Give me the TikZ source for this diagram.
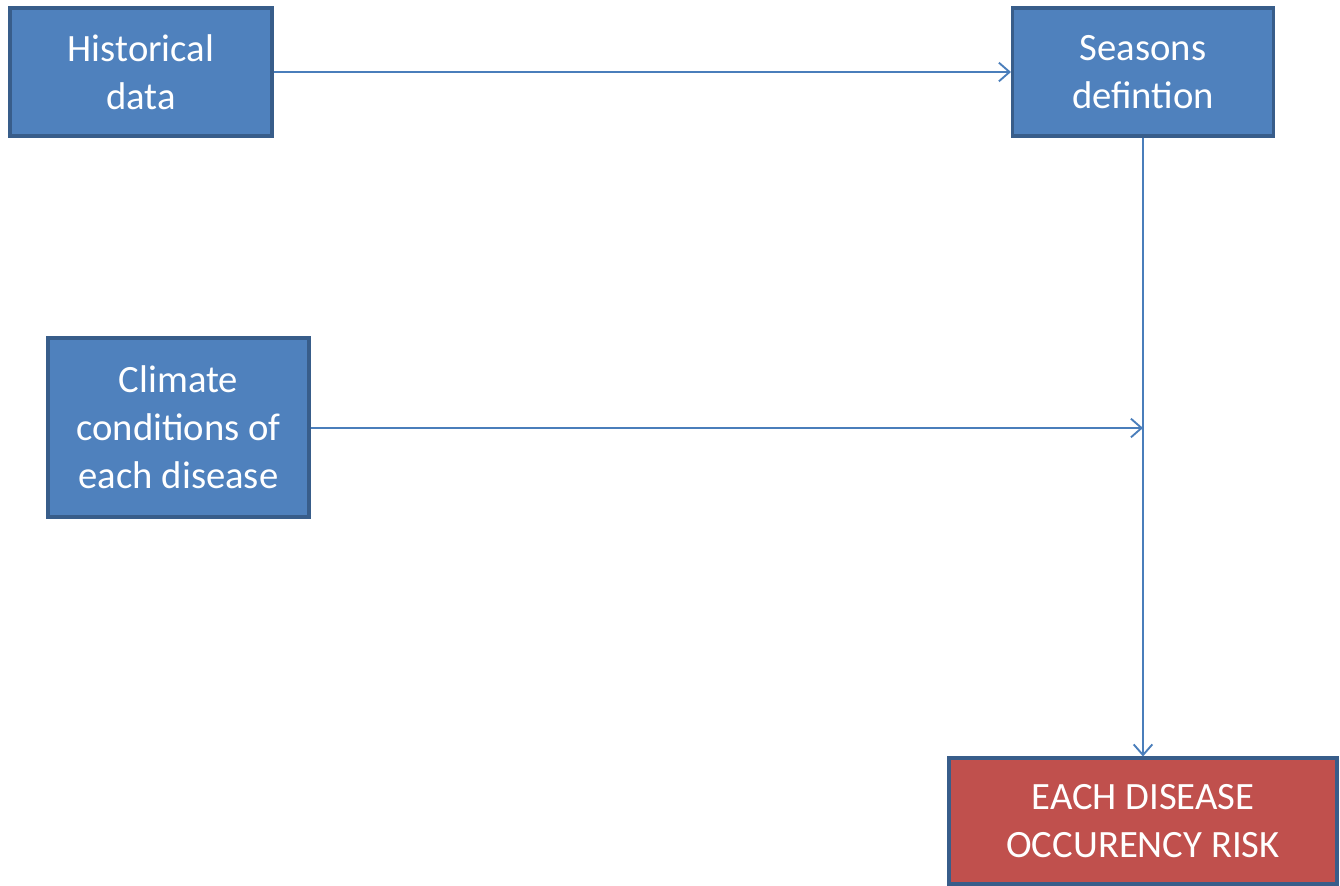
\documentclass[tikz,border=0pt]{standalone}
\usepackage{fontspec}
\setmainfont{Carlito}
\usetikzlibrary{arrows.meta}
\definecolor{boxblue}{HTML}{4F81BD}
\definecolor{boxedge}{HTML}{385D8A}
\definecolor{boxred}{HTML}{C0504D}
\definecolor{linkblue}{HTML}{4A7EBB}
\begin{document}
\begin{tikzpicture}[x=0.75pt,y=-0.75pt,
  box/.style={draw=boxedge, line width=2.3pt, fill=boxblue, text=white, align=center,
    inner sep=0pt, font=\fontsize{29}{36}\selectfont},
  redbox/.style={box, fill=boxred},
  link/.style={draw=linkblue, line width=1.4pt, -{Straight Barb[length=8pt,width=14pt,line width=1.4pt]}}]
\useasboundingbox (0,0) rectangle (1340,886);
\node[box, minimum width=262*0.75pt, minimum height=128*0.75pt] (hist) at (141,72) {Historical\\data};
\node[box, minimum width=261*0.75pt, minimum height=128*0.75pt] (seas) at (1143,72) {Seasons\\defintion};
\node[box, minimum width=261*0.75pt, minimum height=179*0.75pt] (clim) at (178.5,427.5) {Climate\\conditions of\\each disease};
\node[redbox, minimum width=388*0.75pt, minimum height=126*0.75pt] (risk) at (1143,821) {EACH DISEASE\\OCCURENCY RISK};
\coordinate (join) at (1143,428);
\draw[link] (hist.east) -- (seas.west);
\draw[link] (seas.south) -- (risk.north);
\draw[link] (clim.east |- join) -- (join);
\end{tikzpicture}
\end{document}
